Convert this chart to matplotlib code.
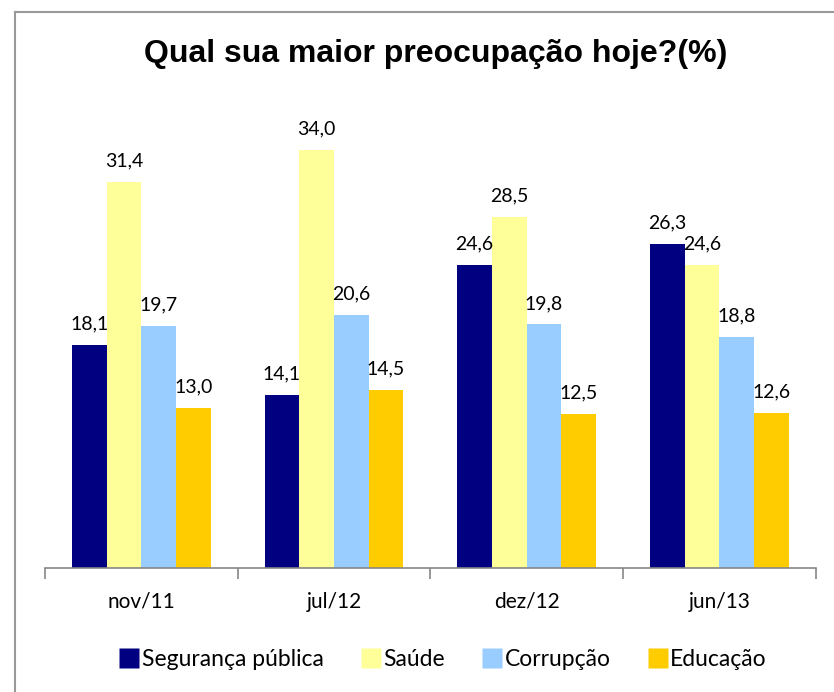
import numpy as np
import matplotlib
matplotlib.use('Agg')
import matplotlib.pyplot as plt
from matplotlib.lines import Line2D

periods = ['nov/11', 'jul/12', 'dez/12', 'jun/13']
series = ['Segurança pública', 'Saúde', 'Corrupção', 'Educação']
seguranca = [18.1, 14.1, 24.6, 26.3]
saude = [31.4, 34.0, 28.5, 24.6]
corrupcao = [19.7, 20.6, 19.8, 18.8]
educacao = [13.0, 14.5, 12.5, 12.6]
colors = ['#000080', '#FFFF99', '#99CCFF', '#FFCC00']

plt.rcParams['font.family'] = ['Lato', 'DejaVu Sans']

fig = plt.figure(figsize=(8.34, 6.92), dpi=100)
ax = fig.add_axes([0.054, 0.179, 0.924, 0.676])

x = np.arange(len(periods))
w = 0.18
values = [seguranca, saude, corrupcao, educacao]
for i, (name, vals) in enumerate(zip(series, values)):
    pos = x + (i - 1.5) * w
    ax.bar(pos, vals, width=w, color=colors[i], label=name, edgecolor='none')
    for p, v in zip(pos, vals):
        ax.annotate(f'{v:.1f}'.replace('.', ','), (p, v), xytext=(0, 9),
                    textcoords='offset points', ha='center', va='bottom',
                    fontsize=14, color='black')

ax.set_xlim(-0.5, len(periods) - 0.5)
ax.set_ylim(0, 38)
for s in ['top', 'right', 'left']:
    ax.spines[s].set_visible(False)
ax.spines['bottom'].set_color('#868686')
ax.spines['bottom'].set_linewidth(1.2)
ax.set_yticks([])
ax.set_xticks(np.arange(len(periods) + 1) - 0.5, minor=False)
ax.set_xticklabels([])
ax.tick_params(axis='x', length=8, color='#868686', width=1.2)
for i, p in enumerate(periods):
    ax.text(i, -0.05, p, transform=ax.get_xaxis_transform(), ha='center', va='top',
            fontsize=15)

fig.suptitle('Qual sua maior preocupação hoje?(%)', x=0.523, y=0.944,
             fontsize=23, fontweight='bold', family=['Liberation Sans', 'DejaVu Sans'])

handles = [Line2D([0], [0], marker='s', linestyle='none', markersize=14,
                  markerfacecolor=c, markeredgecolor='none') for c in colors]
fig.legend(handles, series, loc='center', bbox_to_anchor=(0.531, 0.047), ncol=4,
           frameon=False, fontsize=16.5, handletextpad=0.1, columnspacing=1.6,
           handlelength=0.9)

# borda cinza (topo e esquerda)
fig.add_artist(Line2D([15 / 834, 1], [1 - 12 / 692, 1 - 12 / 692], color='#999999', lw=1.5,
                      transform=fig.transFigure))
fig.add_artist(Line2D([15 / 834, 15 / 834], [0, 1 - 12 / 692], color='#999999', lw=1.5,
                      transform=fig.transFigure))

fig.savefig('out.png', dpi=100)
